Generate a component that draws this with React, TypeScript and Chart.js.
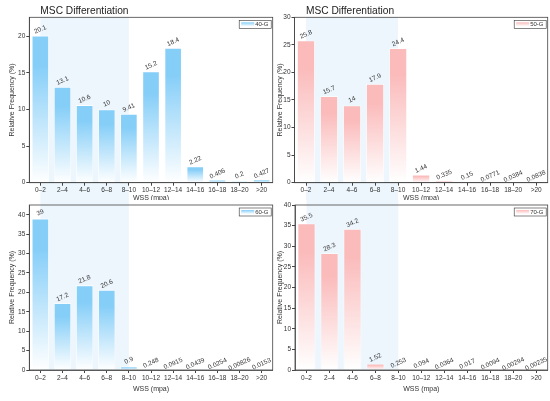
import React, { useEffect, useRef } from 'react';
import { Chart, ChartConfiguration, Plugin, registerables } from 'chart.js';

Chart.register(...registerables);

const categories = ['0–2', '2–4', '4–6', '6–8', '8–10', '10–12', '12–14', '14–16', '16–18', '18–20', '>20'];

const values40G = [20.1, 13.1, 10.6, 10, 9.41, 15.2, 18.4, 2.22, 0.406, 0.2, 0.427];
const values50G = [25.8, 15.7, 14, 17.9, 24.4, 1.44, 0.335, 0.15, 0.0771, 0.0384, 0.0838];
const values60G = [39, 17.2, 21.8, 20.6, 0.9, 0.248, 0.0915, 0.0439, 0.0254, 0.00826, 0.0153];
const values70G = [35.5, 28.3, 34.2, 1.52, 0.253, 0.094, 0.0364, 0.017, 0.0094, 0.00294, 0.00235];

const labels40G = ['20.1', '13.1', '10.6', '10', '9.41', '15.2', '18.4', '2.22', '0.406', '0.2', '0.427'];
const labels50G = ['25.8', '15.7', '14', '17.9', '24.4', '1.44', '0.335', '0.15', '0.0771', '0.0384', '0.0838'];
const labels60G = ['39', '17.2', '21.8', '20.6', '0.9', '0.248', '0.0915', '0.0439', '0.0254', '0.00826', '0.0153'];
const labels70G = ['35.5', '28.3', '34.2', '1.52', '0.253', '0.094', '0.0364', '0.017', '0.0094', '0.00294', '0.00235'];

const FONT = '"Liberation Sans", Arial, sans-serif';
const BLUE = '#85CEF8';
const PINK = '#FBBBBB';
const SHADE = '#EDF6FD';

type PanelProps = {
  name: string;
  values: number[];
  labels: string[];
  color: string;
  yMax: number;
  left: number;
  top: number;
  width: number;
  height: number;
  padLeft: number;
  axisWidth: number;
  areaTop: number;
  areaBottom: number;
  padRight: number;
  titlePadBottom: number;
  showTitle: boolean;
  shadeDown: boolean;
};

// shading band, frame, legend, value labels and the panel title
const decorPlugin: Plugin<'bar'> = {
  id: 'decor',
  beforeDraw(chart, _args, opts: any) {
    const { ctx, chartArea } = chart;
    const x = chart.scales.x;
    const x0 = x.getPixelForValue(0);
    const x1 = x.getPixelForValue(4);
    ctx.save();
    ctx.fillStyle = SHADE;
    if (opts.shadeDown) {
      ctx.fillRect(x0, chartArea.top, x1 - x0, chart.height - chartArea.top);
    } else {
      ctx.fillRect(x0, 0, x1 - x0, chartArea.bottom);
    }
    ctx.restore();
  },
  afterDraw(chart, _args, opts: any) {
    const { ctx, chartArea } = chart;
    const x = chart.scales.x;
    ctx.save();
    // frame
    ctx.strokeStyle = '#444';
    ctx.lineWidth = 0.8;
    ctx.strokeRect(chartArea.left, chartArea.top, chartArea.right - chartArea.left, chartArea.bottom - chartArea.top);

    // value labels
    ctx.fillStyle = '#333';
    ctx.font = `6.5px ${FONT}`;
    ctx.textAlign = 'center';
    ctx.textBaseline = 'middle';
    const meta = chart.getDatasetMeta(0);
    meta.data.forEach((bar: any, i: number) => {
      ctx.save();
      ctx.translate(bar.x, bar.y - 6);
      ctx.rotate((-24 * Math.PI) / 180);
      ctx.fillText(opts.labels[i], 0, 0);
      ctx.restore();
    });

    // legend
    const bw = 32;
    const bh = 8;
    const bx = chartArea.right - bw - 1.5;
    const by = chartArea.top + 3;
    ctx.fillStyle = '#fff';
    ctx.fillRect(bx, by, bw, bh);
    ctx.strokeStyle = '#333';
    ctx.lineWidth = 0.6;
    ctx.strokeRect(bx, by, bw, bh);
    const g = ctx.createLinearGradient(0, by + 2, 0, by + 6);
    g.addColorStop(0, opts.color);
    g.addColorStop(1, '#ffffff');
    ctx.fillStyle = g;
    ctx.fillRect(bx + 2, by + 2, 13, 4);
    ctx.fillStyle = '#333';
    ctx.font = `6px ${FONT}`;
    ctx.textAlign = 'left';
    ctx.fillText(opts.name, bx + 16, by + bh / 2 + 0.3);

    // title
    if (opts.showTitle) {
      ctx.fillStyle = '#222';
      ctx.font = `10.2px ${FONT}`;
      ctx.textAlign = 'left';
      ctx.textBaseline = 'alphabetic';
      ctx.fillText('MSC Differentiation', x.getPixelForValue(0), 14);
    }
    ctx.restore();
  },
};

const Panel = (p: PanelProps) => {
  const ref = useRef<HTMLCanvasElement | null>(null);
  const chartRef = useRef<Chart<'bar'> | null>(null);

  useEffect(() => {
    const canvas = ref.current;
    if (!canvas) return;
    if (chartRef.current) chartRef.current.destroy();

    const config: ChartConfiguration<'bar'> = {
      type: 'bar',
      data: {
        labels: categories,
        datasets: [
          {
            label: p.name,
            data: p.values,
            borderColor: 'rgba(255,255,255,0.9)',
            borderWidth: 0.8,
            barPercentage: 0.78,
            categoryPercentage: 1,
            backgroundColor: (c: any) => {
              const chart = c.chart;
              if (!chart.chartArea || c.raw == null) return p.color;
              const ys = chart.scales.y;
              const top = ys.getPixelForValue(c.raw);
              const bottom = ys.getPixelForValue(0);
              if (bottom - top < 2) return p.color;
              const g = chart.ctx.createLinearGradient(0, top, 0, bottom);
              g.addColorStop(0, p.color);
              g.addColorStop(0.2, p.color);
              g.addColorStop(1, '#ffffff');
              return g;
            },
          },
        ],
      },
      options: {
        animation: false,
        responsive: false,
        layout: {
          padding: { left: p.padLeft, top: p.areaTop, right: p.padRight, bottom: 0 },
        },
        plugins: {
          legend: { display: false },
          tooltip: { enabled: false },
          decor: {
            labels: p.labels,
            color: p.color,
            name: p.name,
            showTitle: p.showTitle,
            shadeDown: p.shadeDown,
          },
        } as any,
        scales: {
          x: {
            afterFit: (s: any) => {
              s.height = p.height - p.areaBottom;
            },
            grid: {
              offset: false,
              drawOnChartArea: false,
              tickLength: 3,
              color: '#444',
            },
            border: { color: '#444', width: 0.8 },
            ticks: {
              color: '#333',
              font: { family: FONT, size: 6.5 },
              padding: 1,
              maxRotation: 0,
              autoSkip: false,
            },
            title: {
              display: true,
              text: 'WSS (mpa)',
              color: '#333',
              font: { family: FONT, size: 7 },
              padding: { top: 0, bottom: p.titlePadBottom },
            },
          },
          y: {
            min: 0,
            max: p.yMax,
            afterFit: (s: any) => {
              s.width = p.axisWidth;
            },
            afterBuildTicks: (s: any) => {
              s.ticks = s.ticks.filter((t: any) => t.value % 5 === 0);
            },
            grid: {
              drawOnChartArea: false,
              tickLength: 3,
              color: '#444',
            },
            border: { color: '#444', width: 0.8 },
            ticks: {
              stepSize: 5,
              color: '#333',
              font: { family: FONT, size: 6.5 },
              padding: 1,
            },
            title: {
              display: true,
              text: 'Relative Frequency (%)',
              color: '#333',
              font: { family: FONT, size: 7 },
              padding: { top: 1, bottom: 2 },
            },
          },
        },
      },
      plugins: [decorPlugin],
    };

    chartRef.current = new Chart(canvas, config);

    return () => {
      chartRef.current?.destroy();
      chartRef.current = null;
    };
  }, []);

  return (
    <canvas
      ref={ref}
      width={p.width}
      height={p.height}
      style={{ position: 'absolute', left: p.left, top: p.top, width: p.width, height: p.height }}
    />
  );
};

const App = () => {
  return (
    <div style={{ position: 'absolute', left: 0, top: 0, width: 550, height: 401, background: '#fff', overflow: 'hidden' }}>
      <Panel
        name="40-G" values={values40G} labels={labels40G} color={BLUE} yMax={22.6}
        left={0} top={0} width={275} height={200}
        padLeft={7} axisWidth={22.3} areaTop={17.3} areaBottom={182.7} padRight={2.3}
        titlePadBottom={-2} showTitle={true} shadeDown={true}
      />
      <Panel
        name="50-G" values={values50G} labels={labels50G} color={PINK} yMax={30}
        left={275} top={0} width={275} height={200}
        padLeft={0} axisWidth={19.5} areaTop={17.3} areaBottom={182.7} padRight={2.3}
        titlePadBottom={-2} showTitle={true} shadeDown={true}
      />
      <Panel
        name="60-G" values={values60G} labels={labels60G} color={BLUE} yMax={42.5}
        left={0} top={200} width={275} height={201}
        padLeft={7} axisWidth={22.3} areaTop={5} areaBottom={170} padRight={2.3}
        titlePadBottom={8} showTitle={false} shadeDown={false}
      />
      <Panel
        name="70-G" values={values70G} labels={labels70G} color={PINK} yMax={40}
        left={275} top={200} width={275} height={201}
        padLeft={0} axisWidth={20} areaTop={5} areaBottom={170} padRight={2.3}
        titlePadBottom={8} showTitle={false} shadeDown={false}
      />
    </div>
  );
};

export default App;
